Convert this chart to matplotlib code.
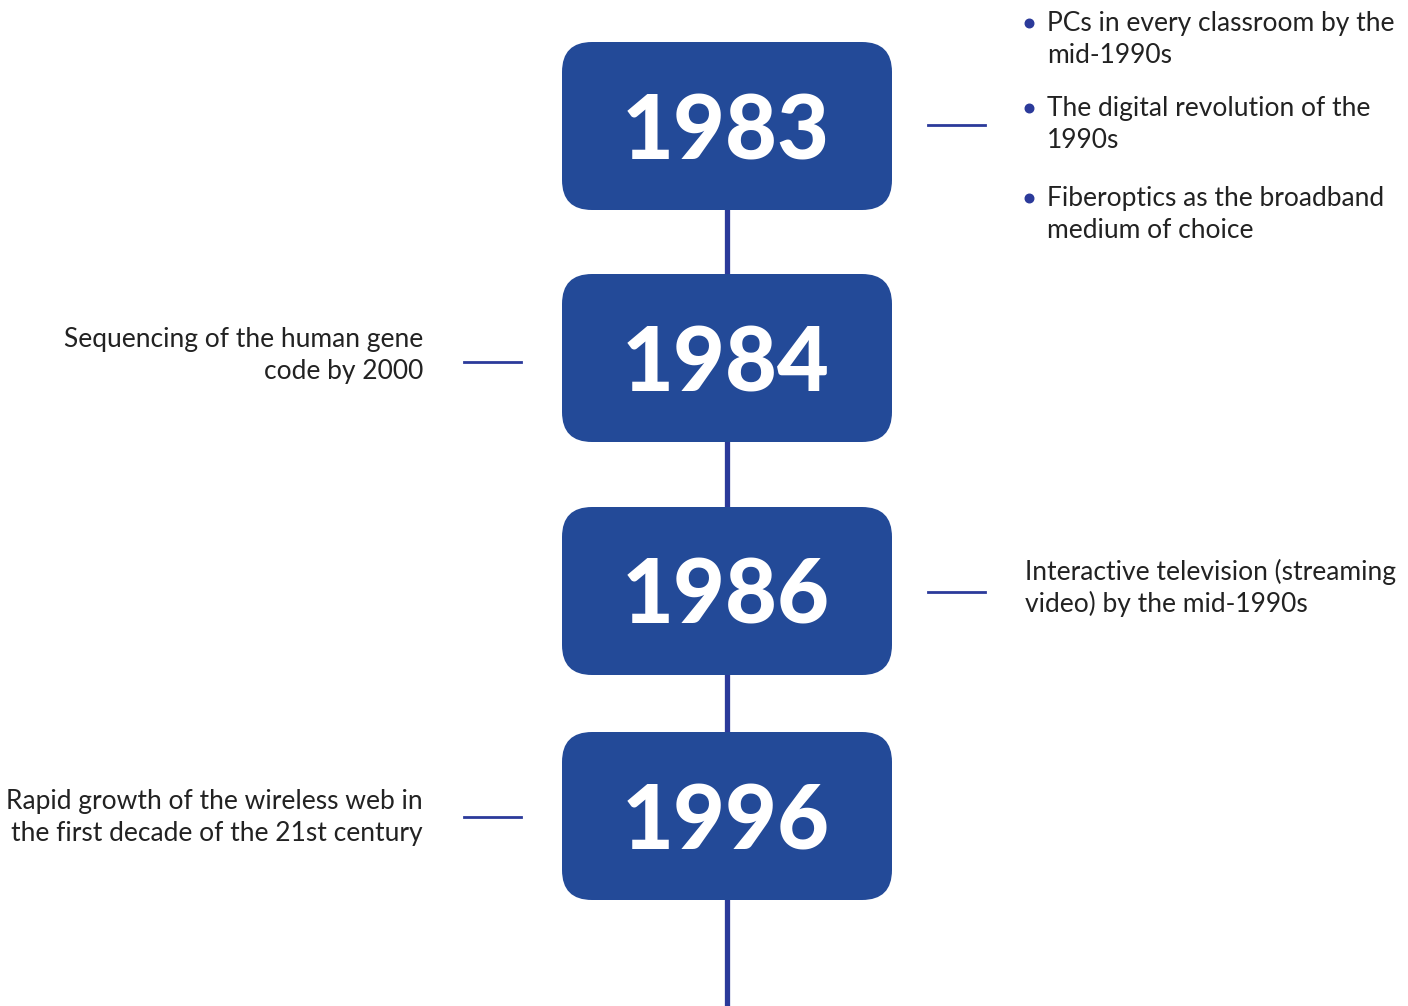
import matplotlib.pyplot as plt
from matplotlib.patches import FancyBboxPatch

plt.rcParams['font.family'] = ['Lato', 'DejaVu Sans']

# data
years = ["1983", "1984", "1986", "1996"]
sides = ["right", "left", "right", "left"]
events = [
    [["PCs in every classroom by the", "mid-1990s"],
     ["The digital revolution of the", "1990s"],
     ["Fiberoptics as the broadband", "medium of choice"]],
    [["Sequencing of the human gene", "code by 2000"]],
    [["Interactive television (streaming", "video) by the mid-1990s"]],
    [["Rapid growth of the wireless web in", "the first decade of the 21st century"]],
]

# layout (pixels)
box_cy = [126, 358, 591, 816]
conn_y = [125, 362, 592, 817]
text_top = [[20.5, 105.5, 195.5], [337.5], [569], [799.5]]
box_x0, box_x1, box_h = 562, 892, 168
spine_x = 727
box_col = "#234A98"
line_col = "#2B3A9A"
text_col = "#222222"

fig = plt.figure(figsize=(14.08, 10.06), dpi=100)
ax = fig.add_axes([0, 0, 1, 1])
ax.set_xlim(0, 1408)
ax.set_ylim(1006, 0)
ax.axis("off")

# vertical spine
ax.plot([spine_x, spine_x], [box_cy[0], 1006], color=line_col, lw=3.8, zorder=1,
        solid_capstyle="butt")

for i, yr in enumerate(years):
    cy = box_cy[i]
    box = FancyBboxPatch((box_x0, cy - box_h / 2), box_x1 - box_x0, box_h,
                         boxstyle="round,pad=0,rounding_size=30",
                         fc=box_col, ec="none", zorder=2)
    ax.add_patch(box)
    ax.text(spine_x - 1, cy + 33, yr, color="white", fontsize=64.5, fontweight="black",
            ha="center", va="baseline", zorder=3)

    items = events[i]
    if sides[i] == "right":
        ax.plot([928, 985], [conn_y[i]] * 2, color=line_col, lw=2, zorder=1)
        bullet = len(items) > 1
        x_txt = 1047 if bullet else 1025
        for lines, y0 in zip(items, text_top[i]):
            if bullet:
                ax.scatter([1029], [y0 + 2.5], s=38, color=line_col, zorder=3)
            for k, ln in enumerate(lines):
                ax.text(x_txt, y0 + 32 * k, ln, color=text_col, fontsize=19,
                        ha="left", va="center_baseline")
    else:
        ax.plot([464, 521], [conn_y[i]] * 2, color=line_col, lw=2, zorder=1)
        y0 = text_top[i][0]
        for k, ln in enumerate(items[0]):
            ax.text(423, y0 + 32 * k, ln, color=text_col, fontsize=19,
                    ha="right", va="center_baseline")

fig.savefig("out.png", dpi=100)
